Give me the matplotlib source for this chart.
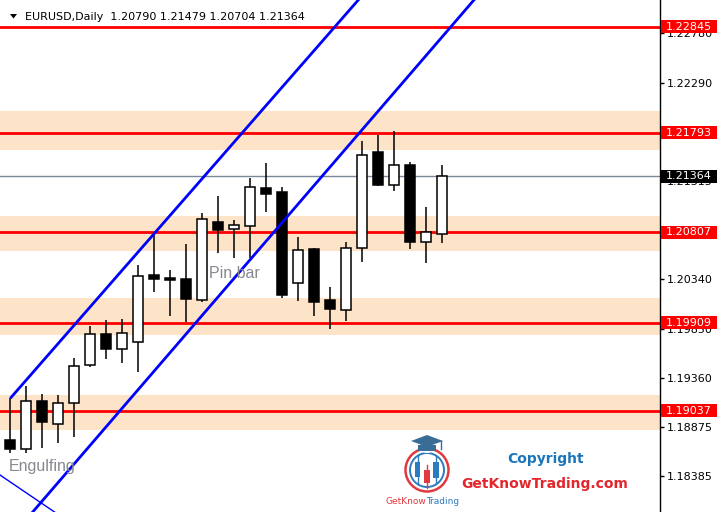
import numpy as np
import matplotlib
matplotlib.use("Agg")
import matplotlib.pyplot as plt
from matplotlib.patches import Rectangle, Circle, Polygon
from matplotlib import transforms

# ---------------- data ----------------
symbol = "EURUSD,Daily"
header_values = [1.20790, 1.21479, 1.20704, 1.21364]

opens = [1.18746, 1.18654, 1.19133, 1.18902, 1.19110, 1.19487, 1.19797, 1.19652,
         1.19715, 1.20380, 1.20353, 1.20343, 1.20138, 1.20908, 1.20836, 1.20872,
         1.21243, 1.21206, 1.20300, 1.20641, 1.20132, 1.20033, 1.20648, 1.21600,
         1.21272, 1.21471, 1.20707, 1.20790]
highs = [1.19163, 1.19282, 1.19199, 1.19192, 1.19556, 1.19877, 1.19936, 1.19946,
         1.20482, 1.20799, 1.20432, 1.20690, 1.20998, 1.21166, 1.20928, 1.21345,
         1.21491, 1.21256, 1.20760, 1.20650, 1.20264, 1.20710, 1.21712, 1.21771,
         1.21811, 1.21507, 1.21057, 1.21479]
lows = [1.18617, 1.18614, 1.18670, 1.18713, 1.18779, 1.19473, 1.19552, 1.19507,
        1.19423, 1.20217, 1.19979, 1.19919, 1.20118, 1.20604, 1.20554, 1.20554,
        1.21011, 1.20157, 1.20128, 1.19979, 1.19850, 1.19926, 1.20515, 1.21268,
        1.21219, 1.20644, 1.20505, 1.20704]
closes = [1.18652, 1.19130, 1.18927, 1.19110, 1.19477, 1.19794, 1.19652, 1.19804,
          1.20370, 1.20346, 1.20336, 1.20148, 1.20935, 1.20832, 1.20876, 1.21253,
          1.21189, 1.20189, 1.20628, 1.20118, 1.20042, 1.20648, 1.21570, 1.21278,
          1.21471, 1.20713, 1.20806, 1.21364]

levels = [1.22845, 1.21793, 1.20807, 1.19909, 1.19037]
zones = [(1.21626, 1.22013), (1.20624, 1.20968), (1.19790, 1.20155), (1.18848, 1.19195)]
current_price = 1.21364
ytick_values = [1.18385, 1.18875, 1.19360, 1.19850, 1.20340, 1.20825,
                1.21315, 1.21800, 1.22290, 1.22780]

channel_upper = [(0.0, 1.19160), (21.75, 1.23111)]   # ray starting at first point
channel_lower = [(1.40, 1.18032), (28.98, 1.23111)]
thin_line = [(-0.644, 1.18399), (2.5875, 1.18051)]
patterns = [("Engulfing", -0.08, 1.18441), ("Pin bar", 12.42, 1.20353)]

# ---------------- figure ----------------
W, H = 721, 512
fig = plt.figure(figsize=(W / 100, H / 100), dpi=100)
fig.patch.set_facecolor("white")
ax = fig.add_axes([0, 0, 660 / W, 1])
ax.set_xlim(-0.644, 40.61)
ax.set_ylim(1.18032, 1.23111)
ax.set_facecolor("white")

# zones
for lo, hi in zones:
    ax.axhspan(lo, hi, color="#fde4c8", lw=0, zorder=0)

# current price line
ax.axhline(current_price, color="#778899", lw=1, zorder=1)

# levels
for lv in levels:
    ax.axhline(lv, color="#ff0000", lw=2, zorder=2)

# candles
x = np.arange(len(opens))
bw = 0.62
for i in x:
    o, h, l, c = opens[i], highs[i], lows[i], closes[i]
    ax.vlines(i, l, h, color="black", lw=1.1, zorder=3)
    bottom = min(o, c)
    height = max(abs(c - o), 0.00008)
    fc = "white" if c >= o else "black"
    ax.add_patch(Rectangle((i - bw / 2, bottom), bw, height, facecolor=fc,
                           edgecolor="black", lw=1.1, zorder=4))

# channel lines
(x0, y0), (x1, y1) = channel_upper
ax.plot([x0, x0 + 3 * (x1 - x0)], [y0, y0 + 3 * (y1 - y0)], color="#0000ff", lw=2,
        zorder=5, solid_capstyle="butt")
ax.axline(channel_lower[0], channel_lower[1], color="#0000ff", lw=2, zorder=5)
ax.axline(thin_line[0], thin_line[1], color="#0000ff", lw=1, zorder=5)

# pattern labels
for txt, xi, yp in patterns:
    ax.text(xi, yp, txt, family=["Liberation Sans", "DejaVu Sans"], fontsize=11.5,
            color="#878890", va="baseline", ha="left", zorder=6)

# axes styling
for s in ["top", "left", "bottom"]:
    ax.spines[s].set_visible(False)
ax.spines["right"].set_color("black")
ax.spines["right"].set_linewidth(1)
ax.set_xticks([])
ax.yaxis.tick_right()
ax.set_yticks(ytick_values)
ax.set_yticklabels([f"{v:.5f}" for v in ytick_values])
ax.tick_params(axis="y", length=3, width=1, labelsize=8, pad=2, colors="black")

# price tags
trans = transforms.blended_transform_factory(fig.transFigure, ax.transData)
hh = 6.5 * (1.23111 - 1.18032) / H
for lv, col in [(lv, "#ff0000") for lv in levels] + [(current_price, "black")]:
    ax.add_patch(Rectangle((661 / W, lv - hh), 56 / W, 2 * hh, transform=trans,
                           facecolor=col, edgecolor="none", clip_on=False, zorder=10))
    ax.text(666 / W, lv, f"{lv:.5f}", transform=trans, color="white", fontsize=8,
            va="center", ha="left", zorder=11, clip_on=False)

# ---------------- overlay (pixel coords) ----------------
ov = fig.add_axes([0, 0, 1, 1])
ov.set_xlim(0, W)
ov.set_ylim(H, 0)
ov.axis("off")
ov.patch.set_alpha(0)

# header
ov.add_patch(Polygon([(10, 14), (17, 14), (13.5, 18.5)], closed=True,
                     facecolor="black", edgecolor="none"))
hdr = symbol + "  " + " ".join(f"{v:.5f}" for v in header_values)
ov.text(25, 16.5, hdr, fontsize=8, va="center", ha="left", color="black")

# logo
cx, cy = 427, 470
ov.add_patch(Circle((cx, cy), 21.5, fill=False, ec="#e0393e", lw=1.8))
ov.add_patch(Circle((cx, cy), 17, fill=False, ec="#2c7bbf", lw=1.4))
for (xc, top, bot, wt, wb, col) in [(417.5, 462, 477, 455, 484, "#2c7bbf"),
                                     (427, 470, 483, 465, 488, "#e0393e"),
                                     (436, 462, 478, 456, 484, "#2c7bbf")]:
    ov.plot([xc, xc], [wt, wb], color=col, lw=1)
    ov.add_patch(Rectangle((xc - 2.6, top), 5.2, bot - top, facecolor=col, edgecolor="none"))
ov.add_patch(Circle((cx, 443), 10, facecolor="white", edgecolor="none"))
ov.add_patch(Polygon([(411, 441), (427, 435), (443, 441), (427, 447)], closed=True,
                     facecolor="#3a6d96", edgecolor="none"))
ov.add_patch(Polygon([(418, 445), (436, 445), (436, 451), (418, 451)], closed=True,
                     facecolor="#3a6d96", edgecolor="none"))
ov.plot([441, 441], [441, 449], color="#3a6d96", lw=1)
ov.text(386, 501, "GetKnow", fontsize=6.5, color="#e0393e", va="center", ha="left")
ov.text(426.5, 501, "Trading", fontsize=6.5, color="#2c7bbf", va="center", ha="left")

ov.text(507, 463, "Copyright", fontsize=10, fontweight="bold", color="#1b75bb",
        va="baseline", ha="left")
ov.text(461, 488, "GetKnowTrading.com", fontsize=10, fontweight="bold", color="#e3262b",
        va="baseline", ha="left")

fig.savefig("out.png", dpi=100, facecolor="white")
